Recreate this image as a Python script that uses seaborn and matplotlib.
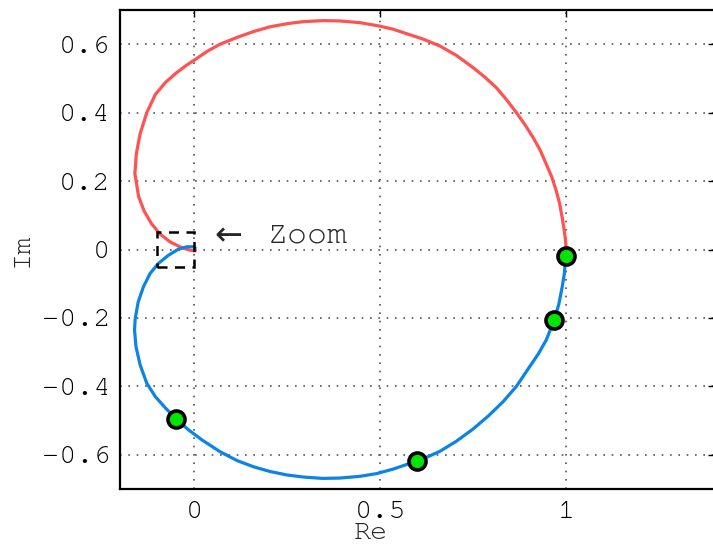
import matplotlib
matplotlib.use("Agg")
import matplotlib.pyplot as plt
import matplotlib.patches as mpatches
import seaborn as sns
import pandas as pd

# Positive-frequency branch (blue)
blue_re = [1.000, 0.998, 0.995, 0.989, 0.980, 0.968, 0.946, 0.925, 0.900, 0.866,
           0.830, 0.790, 0.749, 0.705, 0.660, 0.615, 0.599, 0.534, 0.490, 0.445,
           0.391, 0.345, 0.293, 0.249, 0.204, 0.159, 0.115, 0.069, 0.021, -0.016,
           -0.049, -0.078, -0.105, -0.128, -0.146, -0.157, -0.161, -0.159, -0.151, -0.137,
           -0.119, -0.097, -0.070, -0.043, -0.020, -0.003, 0.002]
blue_im = [0.000, -0.030, -0.070, -0.110, -0.160, -0.205, -0.265, -0.305, -0.345, -0.400,
           -0.445, -0.487, -0.525, -0.560, -0.590, -0.612, -0.618, -0.642, -0.655, -0.663,
           -0.668, -0.669, -0.665, -0.659, -0.649, -0.635, -0.617, -0.591, -0.557, -0.527,
           -0.495, -0.463, -0.430, -0.391, -0.337, -0.284, -0.235, -0.201, -0.153, -0.109,
           -0.070, -0.041, -0.017, 0.001, 0.008, 0.008, 0.005]

# Negative-frequency branch (red)
red_re = [1.000, 0.998, 0.994, 0.989, 0.982, 0.973, 0.961, 0.946, 0.930, 0.911,
          0.890, 0.866, 0.840, 0.812, 0.782, 0.749, 0.705, 0.660, 0.615, 0.570,
          0.534, 0.498, 0.445, 0.391, 0.347, 0.293, 0.249, 0.204, 0.159, 0.115,
          0.069, 0.034, 0.006, -0.022, -0.050, -0.078, -0.105, -0.128, -0.146, -0.156,
          -0.160, -0.150, -0.135, -0.115, -0.092, -0.065, -0.035, -0.012, 0.002]
red_im = [0.000, 0.026, 0.060, 0.094, 0.135, 0.172, 0.212, 0.250, 0.290, 0.327,
          0.363, 0.400, 0.437, 0.473, 0.503, 0.532, 0.567, 0.595, 0.615, 0.631,
          0.644, 0.653, 0.663, 0.668, 0.669, 0.666, 0.660, 0.651, 0.637, 0.620,
          0.600, 0.579, 0.558, 0.538, 0.515, 0.488, 0.453, 0.400, 0.338, 0.280,
          0.222, 0.155, 0.112, 0.075, 0.045, 0.022, 0.006, -0.002, -0.004]

# Highlighted points
pts_re = [1.000, 0.968, 0.599, -0.049]
pts_im = [-0.020, -0.205, -0.618, -0.495]

x_ticks = [0, 0.5, 1]
x_tick_labels = ["0", "0.5", "1"]
y_ticks = [-0.6, -0.4, -0.2, 0, 0.2, 0.4, 0.6]
y_tick_labels = ["\u22120.6", "\u22120.4", "\u22120.2", "0", "0.2", "0.4", "0.6"]

sns.set_style("white")
MONO = ['Courier New', 'Nimbus Mono PS', 'FreeMono', 'Liberation Mono', 'DejaVu Sans Mono']
plt.rcParams['font.family'] = MONO
FS = 20.5

fig = plt.figure(figsize=(7.13, 5.5), dpi=100)
ax = fig.add_axes([120/713, 61/550, 595/713, 479/550])

df_blue = pd.DataFrame({"Re": blue_re, "Im": blue_im})
df_red = pd.DataFrame({"Re": red_re, "Im": red_im})
df_pts = pd.DataFrame({"Re": pts_re, "Im": pts_im})

sns.lineplot(data=df_red, x="Re", y="Im", sort=False, estimator=None,
             color="#ff5252", linewidth=2.3, ax=ax, zorder=3)
sns.lineplot(data=df_blue, x="Re", y="Im", sort=False, estimator=None,
             color="#0b84e6", linewidth=2.3, ax=ax, zorder=3)
sns.scatterplot(data=df_pts, x="Re", y="Im", s=150, color="#00e600",
                edgecolor="black", linewidth=2.6, ax=ax, zorder=5)

# Zoom box and annotation
rect = mpatches.Rectangle((-0.1, -0.05), 0.1, 0.1, fill=False, edgecolor="black",
                          linewidth=1.8, linestyle=(0, (4, 3)), zorder=6)
ax.add_patch(rect)
ax.text(0.055, 0.040, "\u2190", fontsize=24, ha="left", va="center",
        family=['DejaVu Sans'], zorder=6)
ax.text(0.196, 0.042, "Zoom", fontsize=24, ha="left", va="center",
        family=MONO, zorder=6)

ax.set_xlim(-0.2, 1.4)
ax.set_ylim(-0.7, 0.7)
ax.set_xticks(x_ticks)
ax.set_xticklabels(x_tick_labels)
ax.set_yticks(y_ticks)
ax.set_yticklabels(y_tick_labels)
ax.tick_params(direction="in", length=5, width=1, top=True, right=True,
               labelsize=FS, colors="black")
ax.tick_params(axis="x", pad=9)
ax.tick_params(axis="y", pad=7)
ax.grid(True, color="#555555", linewidth=1.2, linestyle=(0, (1, 4)))
for s in ax.spines.values():
    s.set_color("black")
    s.set_linewidth(1.6)

ax.set_xlabel("Re", fontsize=FS)
ax.set_ylabel("Im", fontsize=FS)
ax.xaxis.set_label_coords((371 - 120) / 595, -0.068)
ax.yaxis.set_label_coords((33 - 120) / 595, 0.5)

fig.savefig("out.png", dpi=100)
